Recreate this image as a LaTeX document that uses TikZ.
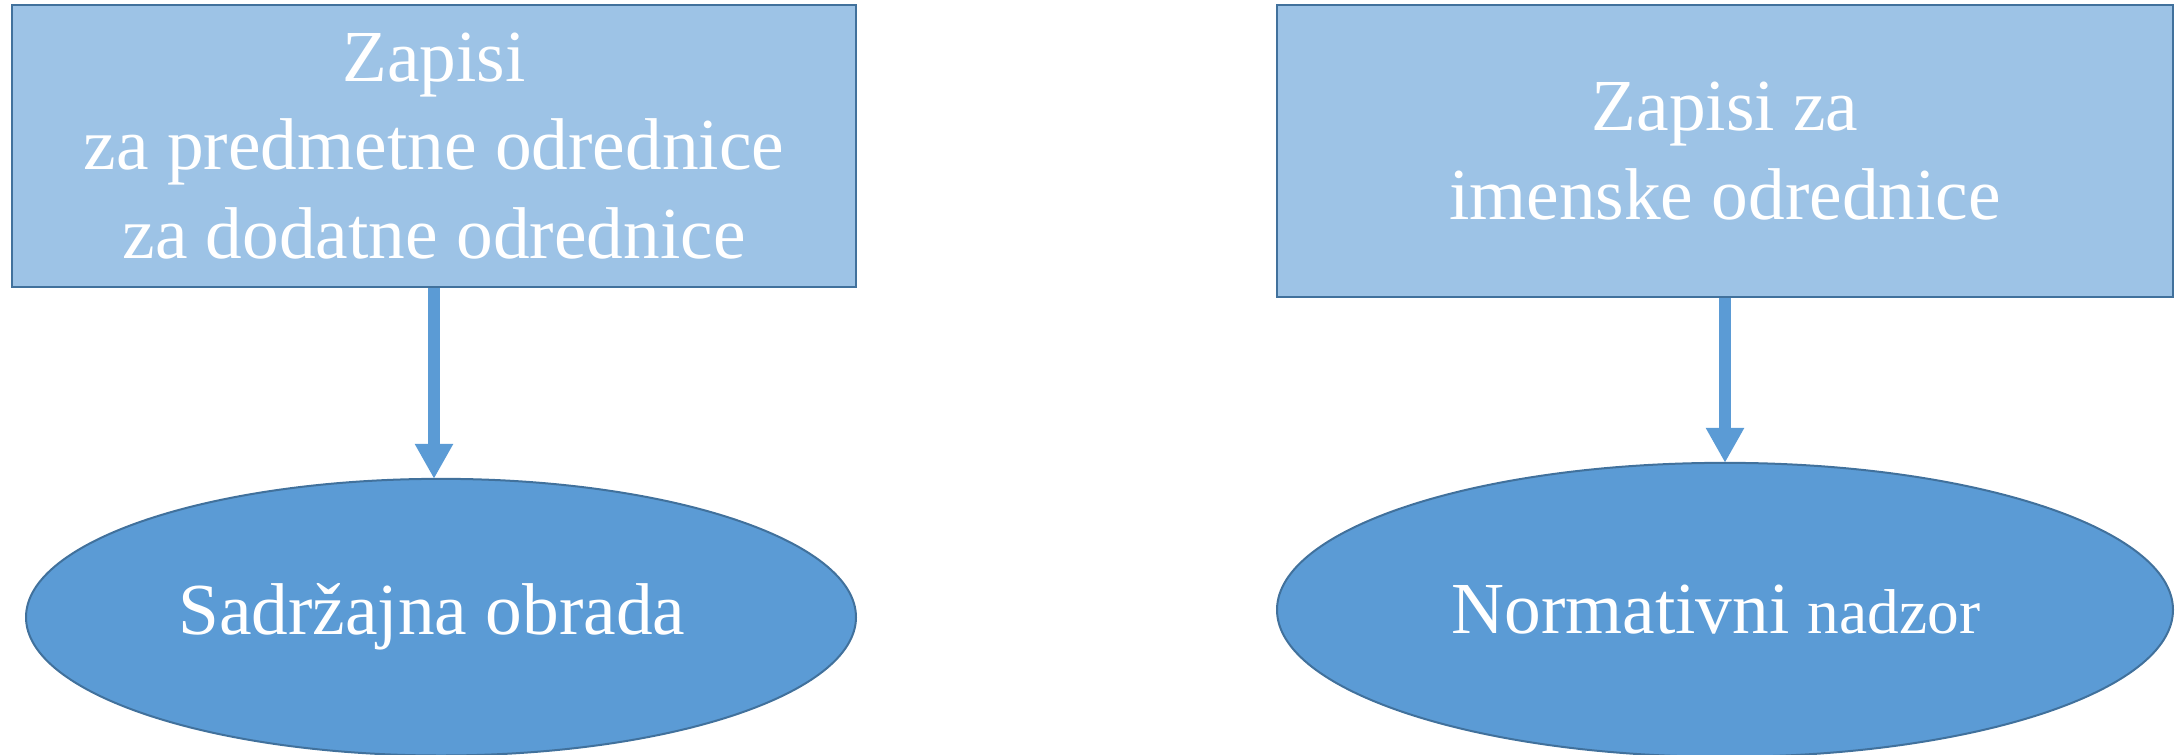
\documentclass[tikz,border=0pt]{standalone}
\usepackage{fontspec}
\setmainfont{Liberation Serif}
\usetikzlibrary{arrows.meta,shapes.geometric,positioning}
\definecolor{boxFill}{HTML}{9DC3E6}
\definecolor{ovalFill}{HTML}{5B9BD5}
\definecolor{edgeCol}{HTML}{41719C}
\tikzstyle{bigText} = [text=white, align=center, font=\fontsize{22}{26.5}\selectfont]
\tikzstyle{recBox} = [bigText, shape = rectangle, draw=edgeCol, line width=0.6pt, fill=boxFill, inner sep=0pt]
\tikzstyle{oval} = [bigText, shape = ellipse, draw=edgeCol, line width=0.6pt, fill=ovalFill, inner sep=0pt]
\tikzstyle{flow} = [draw=ovalFill, line width=3.6pt, -{Triangle[width=10.8pt, length=10.5pt]}, shorten >=-0.3pt]

\begin{document}
\begin{tikzpicture}[x=0.3pt, y=-0.3pt]
			\useasboundingbox (0,0) rectangle (2176,754);
			\node (zapisiL) at (434,146) [recBox, minimum width=253pt, minimum height=84.5pt] {
				Zapisi\\za predmetne odrednice\\za dodatne odrednice
			};
			\node (sadrzaj) [oval, minimum width=249pt, minimum height=83pt, below = 57pt of zapisiL, xshift=2.1pt] {
				Sadržajna obrada
			};
			\node (zapisiR) at (1725,151) [recBox, minimum width=268.8pt, minimum height=87.5pt] {
				Zapisi za\\imenske odrednice
			};
			\node (nadzor) [oval, minimum width=268.8pt, minimum height=88.2pt, below = 49.2pt of zapisiR] {
				Normativni {\fontsize{19}{22}\selectfont nadzor}
			};
			\draw[flow] (zapisiL.south) -- (zapisiL.south |- sadrzaj.north);
			\draw[flow] (zapisiR.south) -- (nadzor.north);
\end{tikzpicture}
\end{document}
